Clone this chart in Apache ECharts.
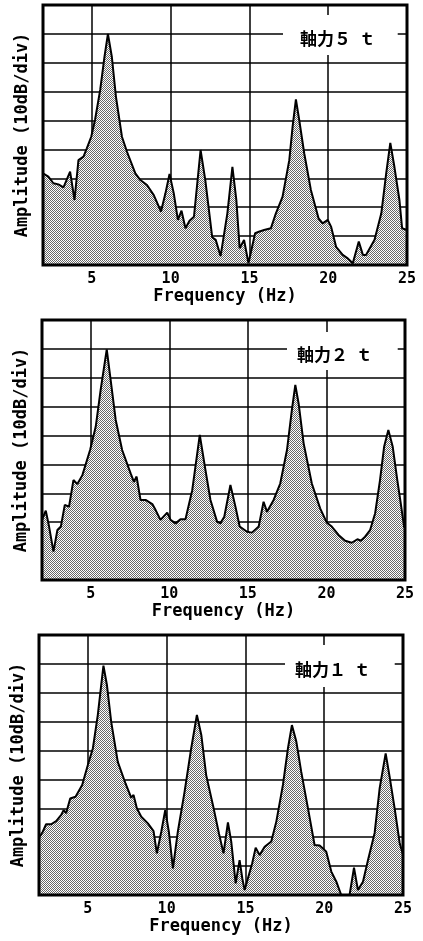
<!DOCTYPE html>
<html><head><meta charset="utf-8">
<script src="https://cdn.jsdelivr.net/npm/echarts@6/dist/echarts.min.js"></script>
<style>html,body{margin:0;padding:0;background:#fff}#c{width:423px;height:941px}</style>
</head><body><div id="c"></div>
<script>
// ---- data (amplitude in dB above the bottom of the plot, 10 dB per division) ----
const freq5 = [1.9,2.24,2.56,2.88,3.2,3.62,3.9,4.15,4.47,4.68,4.96,5.2,5.53,5.8,6.02,6.27,6.53,6.91,7.23,7.76,8.08,8.5,8.93,9.39,9.67,9.93,10.2,10.46,10.69,10.94,11.2,11.48,11.9,12.2,12.64,12.86,13.17,13.6,13.92,14.17,14.38,14.66,14.94,15.36,15.6,15.93,16.36,16.68,17.1,17.53,17.74,17.95,18.16,18.48,18.9,19.39,19.65,19.97,20.18,20.5,20.92,21.24,21.56,21.67,21.94,22.2,22.4,22.94,23.37,23.68,23.94,24.2,24.52,24.69,24.9,25];
const amp5  = [31.7,30.6,28.3,27.9,26.9,32.3,22.5,36.3,37.5,40.4,44.4,50.2,60.6,72,80,72,58.2,44.4,39.2,31.7,29.4,27.7,24.2,18.5,24.8,31.5,24.8,15.6,18.8,12.7,15.3,16.7,39.8,29.4,9.6,8.7,3.1,17.9,34,22.5,5.8,8.7,0.6,11,11.5,12.1,12.7,17.9,23.6,36.3,47.9,57.3,50.2,38.6,26,16.1,14.4,15.6,13.3,6.3,3.5,2.3,0.6,0,8.1,3.5,3.5,8.7,17.9,31.7,42.3,34,22.5,12.7,12.3,12];

const freq2 = [1.9,2.14,2.35,2.63,2.88,3.1,3.35,3.62,3.9,4.15,4.47,4.96,5.32,5.63,6.02,6.27,6.59,7.0,7.54,7.75,7.92,8.17,8.49,8.92,9.13,9.44,9.87,10.08,10.4,10.71,11.03,11.46,11.94,12.3,12.62,13.04,13.25,13.5,13.89,14.21,14.48,14.95,15.26,15.69,16.0,16.22,16.64,17.06,17.49,17.8,18.02,18.23,18.55,19.07,19.6,20.03,20.34,20.77,21.19,21.61,21.97,22.19,22.46,22.78,23.1,23.41,23.67,23.94,24.22,24.51,24.73,24.94,25];
const amp2  = [20.8,24,18.5,9.8,17.3,18.5,26,25.4,34.6,33.2,36.3,45,53.1,65.7,79.8,69.2,55.4,45,36.9,34,35.8,27.7,27.7,26.3,24.2,20.8,23.3,20.8,19.6,21,21,31.1,50.2,38.1,27.7,20.2,19.6,21.9,32.9,25.4,18.5,16.7,16.4,18.5,27.1,23.6,27.7,33.4,45,58.8,67.5,61.1,47.3,33.4,24.8,19.8,18.5,15.6,13.6,12.9,14.1,13.6,15,17.3,23.1,34.6,46.1,51.9,46.1,34.6,26.5,18.5,18];

const freq1 = [1.9,2.14,2.35,2.67,2.99,3.31,3.46,3.62,3.88,4.22,4.64,5.0,5.32,5.63,5.99,6.21,6.48,6.9,7.39,7.75,7.9,8.11,8.39,8.81,9.17,9.38,9.66,9.91,10.14,10.4,10.71,11.14,11.56,11.92,12.2,12.51,12.94,13.32,13.61,13.89,14.1,14.38,14.63,14.8,14.95,15.16,15.43,15.65,15.9,16.22,16.64,16.96,17.38,17.7,17.95,18.23,18.54,18.97,19.39,19.71,19.92,20.13,20.45,20.77,21.08,21.61,21.89,22.14,22.46,22.78,23.2,23.52,23.9,24.15,24.47,24.79,24.89,25];
const amp1  = [19.8,21.9,24.5,24.5,25.6,27.7,29.4,28.3,33.4,34,38.1,45,50.8,62.3,79.4,72.7,60,46.1,38.6,33.7,34.6,30,27.1,24.8,22.1,14.4,21.9,29.4,21.9,9.2,21.9,35.8,50.8,62.3,55.4,41.5,31.1,21.3,14.4,25.1,18.5,4,12.1,5.8,1.7,5.8,11,16.4,13.8,16.7,18.5,25.4,38.1,50.8,58.8,53.1,42.7,30,17.3,17.1,16.1,15,8.1,4.6,0,0,9.5,1.7,4.6,12.1,21.5,37,49,41,30,18,16,14];

const panelLabels = ['軸力５  ｔ', '軸力２  ｔ', '軸力１  ｔ'];
const xName = 'Frequency (Hz)';
const yName = 'Amplitude (10dB/div)';
const freqMin = 1.9, freqMax = 25;
const dbMin = 0, dbMax = 90, dbStep = 10;

// ---- layout ----
const panels = [
  {f: freq5, a: amp5, grid: {left: 43, top: 5, width: 364, height: 260}, box: {left: 283, top: 15, pad: [15, 22, 7, 17]}},
  {f: freq2, a: amp2, grid: {left: 42, top: 320, width: 363, height: 260}, box: {left: 287, top: 332, pad: [14, 25, 6, 10]}},
  {f: freq1, a: amp1, grid: {left: 39, top: 635, width: 364, height: 260}, box: {left: 285, top: 645, pad: [16, 24, 8, 10]}}
];

function stipple() {
  const c = document.createElement('canvas');
  c.width = 2; c.height = 2;
  const g = c.getContext('2d');
  g.fillStyle = '#fff'; g.fillRect(0, 0, 2, 2);
  g.fillStyle = '#686868'; g.fillRect(0, 0, 1, 1); g.fillRect(1, 1, 1, 1);
  return c;
}
const pat = stipple();
const monoFont = "'DejaVu Sans Mono', 'Liberation Mono', monospace";

const option = {
  animation: false,
  backgroundColor: '#fff',
  grid: panels.map(p => Object.assign({show: true, backgroundColor: 'transparent', borderColor: '#000', borderWidth: 3, z: 5}, p.grid)),
  title: panels.map((p, i) => ({
    text: panelLabels[i], left: p.box.left, top: p.box.top, padding: p.box.pad,
    backgroundColor: '#fff', z: 8,
    textStyle: {fontFamily: "'Noto Sans CJK JP', sans-serif", fontWeight: 'bold', fontSize: 17, lineHeight: 18, color: '#000'}
  })),
  xAxis: panels.map((p, i) => ({
    type: 'value', gridIndex: i, min: freqMin, max: freqMax,
    name: xName, nameLocation: 'middle', nameGap: 23,
    nameTextStyle: {fontFamily: monoFont, fontWeight: 'bold', fontSize: 17, color: '#000'},
    axisLine: {show: false}, axisTick: {show: false},
    axisLabel: {showMinLabel: false, margin: 7, fontFamily: monoFont, fontWeight: 'bold', fontSize: 15, color: '#000'},
    splitLine: {show: true, lineStyle: {color: '#000', width: 1.5}}
  })),
  yAxis: panels.map((p, i) => ({
    type: 'value', gridIndex: i, min: dbMin, max: dbMax, interval: dbStep,
    name: yName, nameLocation: 'middle', nameGap: 12, nameRotate: 90,
    nameTextStyle: {fontFamily: monoFont, fontWeight: 'bold', fontSize: 17, color: '#000'},
    axisLine: {show: false}, axisTick: {show: false}, axisLabel: {show: false},
    splitLine: {show: true, lineStyle: {color: '#000', width: 1.5}}
  })),
  series: panels.map((p, i) => ({
    type: 'line', xAxisIndex: i, yAxisIndex: i, silent: true,
    data: p.f.map((f, k) => [f, p.a[k]]),
    symbol: 'none', clip: true,
    lineStyle: {color: '#000', width: 2},
    areaStyle: {color: {image: pat, repeat: 'repeat'}, opacity: 1}
  }))
};

const chart = echarts.init(document.getElementById('c'), null, {renderer: 'canvas'});
chart.setOption(option);
</script>
</body></html>
